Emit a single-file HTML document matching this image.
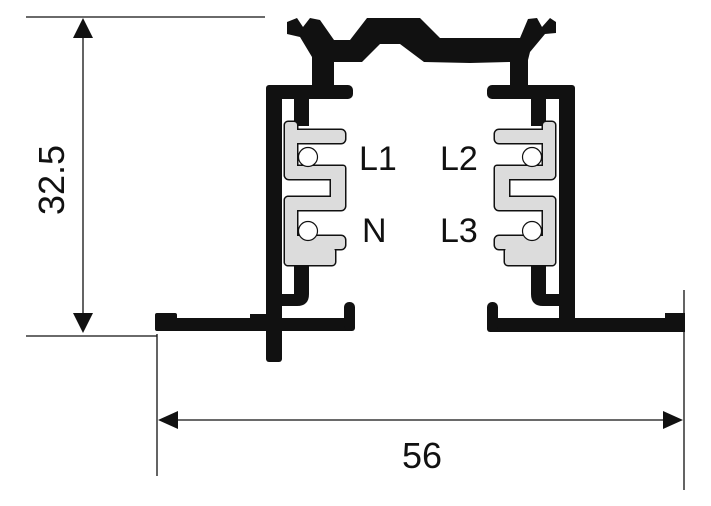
<!DOCTYPE html>
<html><head><meta charset="utf-8"><style>
html,body{margin:0;padding:0;background:#fff;width:711px;height:506px;overflow:hidden}
svg{display:block}
text{font-family:"Liberation Sans",Arial,sans-serif;fill:#111}
</style></head><body>
<svg width="711" height="506" viewBox="0 0 711 506" xmlns="http://www.w3.org/2000/svg">
<g stroke="#111" stroke-width="1.3" fill="none">
<line x1="26" y1="17" x2="265" y2="17"/>
<line x1="26" y1="336" x2="157" y2="336"/>
<line x1="83" y1="35" x2="83" y2="315"/>
<line x1="157" y1="334" x2="157" y2="476"/>
<line x1="684" y1="290" x2="684" y2="490"/>
<line x1="178" y1="420" x2="664" y2="420"/>
</g>
<g fill="#111">
<polygon points="83,18 73,38 93,38"/>
<polygon points="83,333 73,313 93,313"/>
<polygon points="158,420 178,411 178,429"/>
<polygon points="683,420 663,411 663,429"/>
</g>
<text x="0" y="0" font-size="36" transform="translate(64,180) rotate(-90)" text-anchor="middle">32.5</text>
<text x="422" y="468" font-size="36" text-anchor="middle">56</text>

<g fill="#111">
<polygon points="287,22 297,18 303,27 310,18 320,20 334,40 350,40 367,18 420,18 440,38 520,38 528,19 537,18 542,27 550,18 556,22 556,33 545,34 530,52 528,60 528,86 510,86 510,62 470,63 424,62 400,44 380,44 362,62 334,62 334,86 312,86 312,57 300,37 287,34"/>
<rect x="266" y="85" width="87" height="14" rx="5"/>
<rect x="487" y="85" width="87" height="14" rx="5"/>
<rect x="266" y="85" width="16" height="277" rx="3"/>
<rect x="559" y="85" width="16" height="247" rx="3"/>
<rect x="294" y="96" width="15" height="30"/>
<rect x="531" y="96" width="15" height="30"/>
<path d="M294,262 L309,262 L309,294 Q309,306 297,306 L280,306 L280,294 L294,294 Z"/>
<path d="M546,262 L531,262 L531,294 Q531,306 543,306 L560,306 L560,294 L546,294 Z"/>
<rect x="155" y="318" width="200" height="13" rx="3"/>
<rect x="155" y="313" width="22" height="18" rx="2"/>
<rect x="250" y="314" width="30" height="9"/>
<rect x="344" y="302" width="11" height="29" rx="5"/>
<rect x="487" y="318" width="198" height="14" rx="3"/>
<rect x="487" y="302" width="11" height="30" rx="5"/>
<rect x="665" y="313" width="20" height="19"/>
</g>
<rect x="283" y="100" width="10" height="21" fill="#fff"/>
<rect x="547" y="100" width="10" height="21" fill="#fff"/>
<rect x="283" y="266" width="10" height="26" fill="#fff"/>
<rect x="547" y="266" width="10" height="26" fill="#fff"/>

<defs>
<g id="clipS">
<rect x="285" y="122" width="12" height="56" rx="3"/>
<rect x="285" y="130" width="60" height="13" rx="4"/>
<rect x="285" y="166" width="60" height="13" rx="4"/>
<rect x="331" y="166" width="14" height="40" rx="2"/>
<rect x="285" y="197" width="60" height="13" rx="4"/>
<rect x="285" y="197" width="12" height="68" rx="3"/>
<rect x="285" y="236" width="60" height="13" rx="4"/>
<rect x="285" y="248" width="50" height="17" rx="3"/>
</g>
</defs>
<g>
<use href="#clipS" fill="#111" stroke="#111" stroke-width="3"/>
<use href="#clipS" fill="#dcdcdc"/>
<circle cx="308" cy="157" r="9.5" fill="#fff" stroke="#111" stroke-width="1.2"/>
<circle cx="308" cy="231" r="9.5" fill="#fff" stroke="#111" stroke-width="1.2"/>
</g>
<g transform="translate(840,0) scale(-1,1)">
<use href="#clipS" fill="#111" stroke="#111" stroke-width="3"/>
<use href="#clipS" fill="#dcdcdc"/>
<circle cx="308" cy="157" r="9.5" fill="#fff" stroke="#111" stroke-width="1.2"/>
<circle cx="308" cy="231" r="9.5" fill="#fff" stroke="#111" stroke-width="1.2"/>
</g>

<text x="359" y="170" font-size="34">L1</text>
<text x="440" y="170" font-size="34">L2</text>
<text x="362" y="242" font-size="34">N</text>
<text x="440" y="242" font-size="34">L3</text>
</svg>
</body></html>
